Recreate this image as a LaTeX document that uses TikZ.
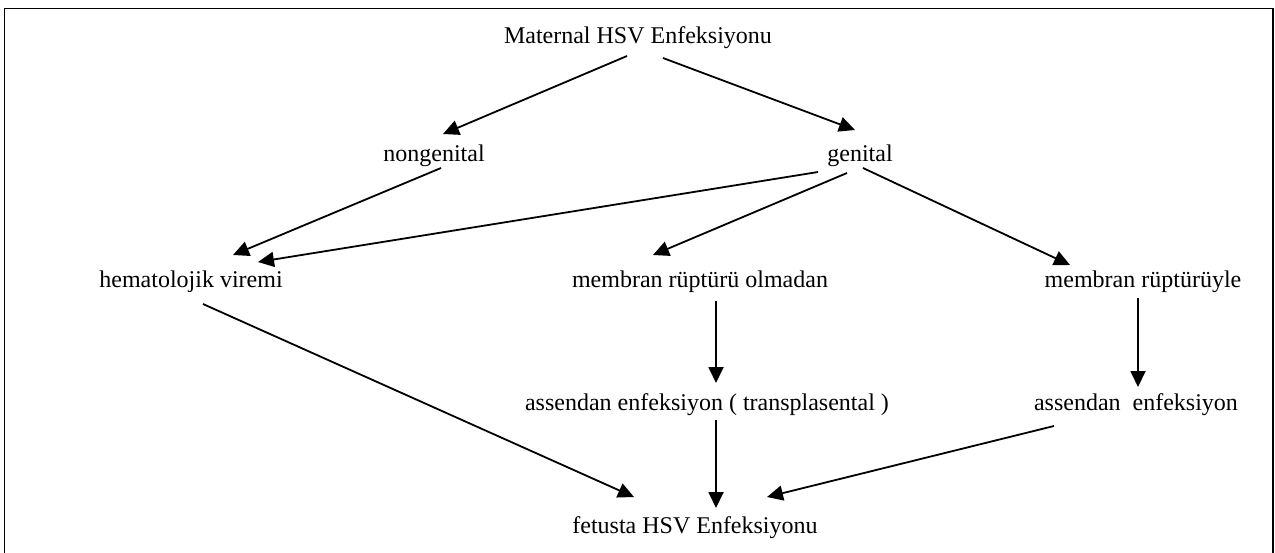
\documentclass[tikz,border=0pt]{standalone}
\usepackage{fontspec}
\setmainfont{Liberation Serif}
\usetikzlibrary{arrows.meta,calc}

\begin{document}
\begin{tikzpicture}[x=0.5pt,y=-0.5pt,
    every node/.style={font=\fontsize{12}{14}\selectfont,inner sep=0pt},
    lbl/.style={anchor=base},
    arr/.style={line width=0.9pt,-{Triangle[length=8pt,width=7.5pt]}}]
                \useasboundingbox (0,0) rectangle (1275,552);
                \draw[line width=0.7pt] (4.5,8.5) rectangle (1273,580);
                % labels
                \node[lbl] (mat) at (638,43) {Maternal HSV Enfeksiyonu};
                \node[lbl] (nongen) at (434,161) {nongenital};
                \node[lbl] (gen) at (860,161) {genital};
                \node[lbl] (hema) at (191,287) {hematolojik viremi};
                \node[lbl] (olm) at (700,287) {membran rüptürü olmadan};
                \node[lbl] (rupt) at (1143,287) {membran rüptürüyle};
                \node[lbl] (trans) at (707,410) {assendan enfeksiyon ( transplasental )};
                \node[lbl] (asc) at (1136,410) {assendan\ \ enfeksiyon};
                \node[lbl] (fet) at (695,533) {fetusta HSV Enfeksiyonu};
                % arrows
                \draw[arr] ($(mat.base)+(-11,13)$) -- ($(nongen.base)+(9,-27)$);
                \draw[arr] ($(mat.base)+(25,15)$) -- ($(gen.base)+(-5,-31)$);
                \draw[arr] ($(nongen.base)+(7,7)$) -- ($(hema.base)+(42,-32)$);
                \draw[arr] ($(gen.base)+(-42,11)$) -- ($(hema.base)+(67,-25)$);
                \draw[arr] ($(gen.base)+(-13,12)$) -- ($(olm.base)+(-47,-32)$);
                \draw[arr] ($(gen.base)+(3,7)$) -- ($(rupt.base)+(-73,-22)$);
                \draw[arr] ($(olm.base)+(16,14)$) -- ($(trans.base)+(9,-27)$);
                \draw[arr] ($(rupt.base)+(-5,11)$) -- ($(asc.base)+(2,-23)$);
                \draw[arr] ($(hema.base)+(12,17)$) -- ($(fet.base)+(-61,-36)$);
                \draw[arr] ($(trans.base)+(9,10)$) -- ($(fet.base)+(21,-25)$);
                \draw[arr] ($(asc.base)+(-82,16)$) -- ($(fet.base)+(72,-36)$);
            \end{tikzpicture}
\end{document}
